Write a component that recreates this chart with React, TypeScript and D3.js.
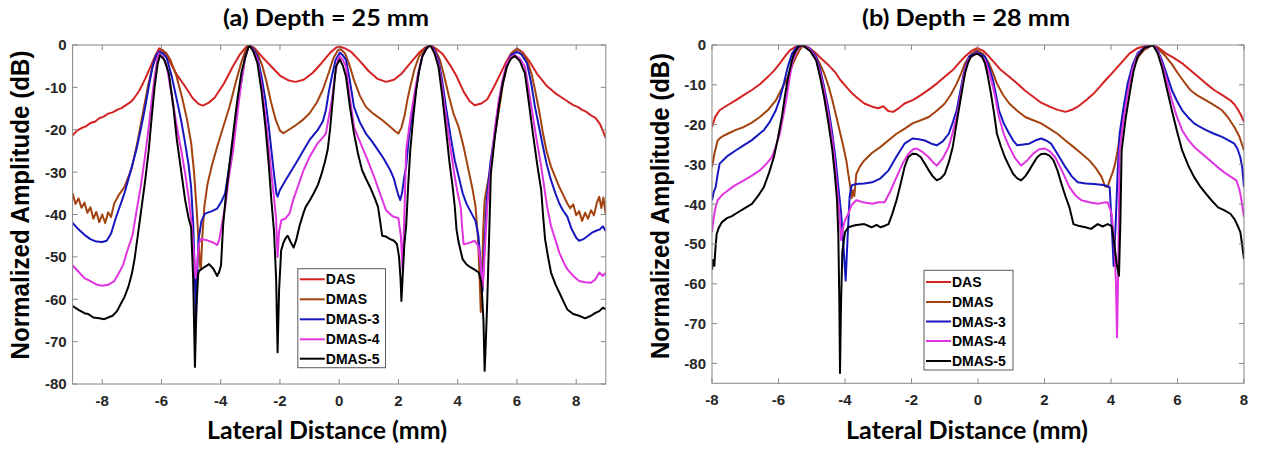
import React from "react";
import * as d3 from "d3";

type Pt = [number, number];

const seriesNames = ["DAS", "DMAS", "DMAS-3", "DMAS-4", "DMAS-5"];
const panelTitles = ["(a) Depth = 25 mm", "(b) Depth = 28 mm"];
const xAxisLabel = "Lateral Distance (mm)";
const yAxisLabel = "Normalized Amplitude (dB)";

const aXTicks = [-8, -6, -4, -2, 0, 2, 4, 6, 8];
const aYTicks = [0, -10, -20, -30, -40, -50, -60, -70, -80];
const bXTicks = [-8, -6, -4, -2, 0, 2, 4, 6, 8];
const bYTicks = [0, -10, -20, -30, -40, -50, -60, -70, -80];
const aXDomain: [number, number] = [-9, 9];
const aYDomain: [number, number] = [-80, 0];
const bXDomain: [number, number] = [-8, 8];
const bYDomain: [number, number] = [-85, 0];

// ---- Panel (a): depth 25 mm ----
const aDAS: Pt[] = [[-9,-21.3],[-8.85,-20.2],[-8.7,-19.6],[-8.55,-19.2],[-8.4,-18.4],[-8.25,-18.1],[-8.1,-17.3],[-7.95,-16.9],[-7.8,-16.2],[-7.65,-15.9],[-7.5,-15.3],[-7.35,-14.9],[-7.2,-14.2],[-7.05,-13.5],[-6.95,-12.8],[-6.75,-10.8],[-6.55,-8],[-6.35,-4.8],[-6.2,-2.4],[-6.08,-0.8],[-5.95,-1.2],[-5.75,-3.5],[-5.5,-6.8],[-5.2,-9.8],[-4.95,-12.5],[-4.75,-13.9],[-4.6,-14.3],[-4.4,-13.6],[-4.2,-12.4],[-3.9,-9.2],[-3.6,-5.2],[-3.35,-2.2],[-3.15,-0.5],[-3.05,0],[-2.85,-0.8],[-2.6,-2.8],[-2.3,-5],[-2.0,-7.2],[-1.7,-8.4],[-1.47,-8.7],[-1.2,-8.2],[-0.9,-6.6],[-0.6,-4.3],[-0.3,-1.8],[-0.1,-0.6],[0.02,-0.4],[0.2,-0.8],[0.4,-1.6],[0.7,-3.8],[1.0,-6.2],[1.3,-8.0],[1.58,-8.7],[1.85,-8.2],[2.1,-6.8],[2.4,-4.3],[2.7,-1.8],[2.9,-0.6],[3.08,0],[3.3,-1],[3.5,-2.2],[3.75,-4.8],[3.95,-7.2],[4.2,-11],[4.4,-13.2],[4.57,-14.2],[4.8,-13.8],[5.0,-12.8],[5.2,-10.2],[5.4,-7.4],[5.6,-4.5],[5.8,-2],[6.0,-0.8],[6.2,-1.8],[6.4,-3.6],[6.7,-7],[7.0,-9.6],[7.3,-11.4],[7.6,-12.8],[7.9,-14.2],[8.05,-14.6],[8.2,-15.3],[8.35,-15.8],[8.5,-16.6],[8.65,-17.2],[8.8,-18.6],[8.9,-20.2],[9,-22]];
const aDMAS: Pt[] = [[-9,-35],[-8.9,-37.5],[-8.8,-36.2],[-8.7,-38.4],[-8.6,-37.2],[-8.5,-39.6],[-8.4,-38.3],[-8.3,-41],[-8.2,-39.4],[-8.1,-41.8],[-8.0,-40],[-7.9,-42],[-7.8,-39.5],[-7.7,-40.6],[-7.6,-37.5],[-7.45,-35.5],[-7.25,-33.5],[-7.0,-29],[-6.8,-22.5],[-6.6,-15],[-6.45,-9.5],[-6.3,-5],[-6.15,-2.2],[-6.02,-1.2],[-5.85,-1.8],[-5.7,-3.5],[-5.5,-7.2],[-5.3,-12.5],[-5.14,-17.5],[-5.0,-23],[-4.9,-30],[-4.82,-38],[-4.75,-46],[-4.7,-52],[-4.67,-53],[-4.62,-45],[-4.55,-38],[-4.45,-33],[-4.3,-28.5],[-4.12,-24],[-3.9,-19],[-3.7,-14.5],[-3.5,-9],[-3.3,-4],[-3.15,-1],[-3.04,0],[-2.9,-0.6],[-2.76,-2],[-2.6,-4.8],[-2.45,-8.8],[-2.3,-13.5],[-2.15,-17.5],[-2.0,-20.2],[-1.88,-20.8],[-1.7,-20],[-1.5,-19.1],[-1.25,-17.8],[-1.0,-16.1],[-0.75,-13.5],[-0.55,-10.5],[-0.35,-6.5],[-0.2,-3.2],[-0.05,-1.3],[0.05,-1.0],[0.2,-2],[0.35,-4.8],[0.5,-8.3],[0.7,-12],[0.9,-14.6],[1.15,-16.2],[1.45,-17.7],[1.7,-19.2],[1.9,-20.4],[2.0,-20.9],[2.1,-19.5],[2.2,-16.9],[2.3,-13],[2.4,-9.8],[2.55,-5.5],[2.7,-2.6],[2.9,-0.8],[3.08,0],[3.25,-1.2],[3.4,-3.5],[3.55,-7.5],[3.7,-12],[3.85,-16],[4.03,-19.3],[4.2,-24],[4.35,-29],[4.5,-34],[4.6,-38],[4.68,-45],[4.74,-55],[4.78,-63],[4.82,-55],[4.86,-44],[4.91,-36.6],[5.0,-33],[5.12,-28.7],[5.25,-21.5],[5.39,-15.4],[5.52,-9.5],[5.66,-5.1],[5.82,-2],[6.0,-1.0],[6.15,-1.6],[6.34,-3.5],[6.5,-7],[6.61,-10.6],[6.75,-15.5],[6.88,-20.9],[7.0,-25],[7.15,-28.7],[7.3,-31.3],[7.43,-33.5],[7.55,-35.2],[7.7,-37.4],[7.8,-38.5],[7.9,-37.6],[8.0,-40.2],[8.1,-39.2],[8.2,-41.5],[8.3,-39.6],[8.4,-41],[8.5,-39],[8.6,-40.2],[8.7,-37.2],[8.78,-35.8],[8.85,-38.5],[8.92,-36],[9,-40]];
const aDMAS3: Pt[] = [[-9,-42],[-8.8,-43.5],[-8.6,-44.8],[-8.4,-45.8],[-8.2,-46.4],[-8.0,-46.5],[-7.85,-46.2],[-7.7,-44.5],[-7.55,-41],[-7.4,-38],[-7.25,-35],[-7.05,-30],[-6.85,-24.8],[-6.7,-20],[-6.57,-15.4],[-6.42,-9.5],[-6.3,-5.1],[-6.18,-2.4],[-6.09,-1.6],[-5.95,-2],[-5.82,-3.1],[-5.65,-7.5],[-5.48,-13],[-5.33,-18],[-5.2,-23.2],[-5.08,-28.5],[-5.0,-33.5],[-4.93,-42],[-4.87,-55],[-4.84,-66],[-4.8,-55],[-4.75,-46],[-4.65,-41.5],[-4.53,-39.8],[-4.3,-39.2],[-4.12,-38.6],[-3.98,-37],[-3.85,-35],[-3.72,-29],[-3.58,-22.4],[-3.45,-15],[-3.31,-9],[-3.18,-3],[-3.04,0],[-2.9,-0.9],[-2.76,-2.8],[-2.62,-7.5],[-2.49,-13],[-2.38,-19],[-2.29,-24.8],[-2.2,-30.5],[-2.12,-35],[-2.08,-35.8],[-2.0,-34.2],[-1.81,-31.9],[-1.6,-29.5],[-1.4,-27.2],[-1.2,-24.8],[-1.0,-22.4],[-0.73,-20.1],[-0.55,-18],[-0.45,-15.4],[-0.35,-11],[-0.25,-7.5],[-0.12,-3.5],[0.02,-1.8],[0.12,-2.4],[0.23,-3.5],[0.35,-8],[0.5,-14.6],[0.7,-18.3],[0.9,-20.9],[1.1,-22.7],[1.31,-24.8],[1.5,-26.8],[1.72,-29.5],[1.85,-31.6],[1.92,-33.5],[2.0,-35.5],[2.06,-36.6],[2.12,-35],[2.2,-31],[2.26,-28.7],[2.35,-22],[2.45,-17],[2.54,-13],[2.67,-7],[2.8,-2.8],[2.95,-0.6],[3.08,0],[3.2,-1],[3.35,-3.5],[3.48,-8.5],[3.62,-15.4],[3.76,-21.5],[3.9,-27.2],[4.05,-31.5],[4.17,-35],[4.3,-37.5],[4.45,-39.5],[4.6,-41.5],[4.7,-45],[4.78,-52],[4.84,-58],[4.9,-48],[4.98,-36.6],[5.1,-28],[5.25,-20.9],[5.38,-14],[5.52,-9],[5.65,-4.8],[5.8,-2.4],[6.0,-1.6],[6.15,-2.2],[6.34,-4.3],[6.48,-9],[6.61,-14.6],[6.75,-19.5],[6.88,-24],[7.0,-28],[7.15,-31.9],[7.3,-35],[7.43,-37.4],[7.55,-39],[7.7,-40.5],[7.85,-43.5],[8.0,-45.5],[8.1,-46.2],[8.25,-45.8],[8.4,-45],[8.55,-44.2],[8.65,-43.9],[8.8,-43.5],[8.9,-42.8],[9,-43.9]];
const aDMAS4: Pt[] = [[-9,-52],[-8.8,-53.5],[-8.6,-55],[-8.4,-55.7],[-8.2,-56.5],[-8.0,-56.8],[-7.8,-56.6],[-7.6,-55.8],[-7.45,-54],[-7.3,-52],[-7.15,-48.5],[-6.98,-45],[-6.85,-39.5],[-6.7,-33.5],[-6.55,-26],[-6.43,-19.3],[-6.32,-12.5],[-6.23,-7.5],[-6.15,-3.8],[-6.09,-2],[-5.95,-2.8],[-5.82,-5.1],[-5.65,-12],[-5.48,-19.3],[-5.33,-25],[-5.2,-30.3],[-5.07,-36.6],[-4.97,-43],[-4.9,-50],[-4.85,-55],[-4.8,-52],[-4.74,-47],[-4.67,-45.8],[-4.5,-46],[-4.26,-46.6],[-4.12,-47.2],[-4.05,-46],[-3.95,-42],[-3.85,-38.2],[-3.72,-31],[-3.58,-24.8],[-3.45,-17],[-3.31,-9],[-3.17,-2.8],[-3.04,0],[-2.9,-1.2],[-2.76,-3.5],[-2.62,-9.5],[-2.49,-16.9],[-2.38,-24],[-2.29,-30.3],[-2.2,-36],[-2.13,-41],[-2.08,-50],[-2.03,-44],[-1.95,-41.3],[-1.82,-41],[-1.68,-39.8],[-1.55,-36.5],[-1.4,-33.5],[-1.2,-29.5],[-1.0,-26.4],[-0.73,-23.2],[-0.55,-21.8],[-0.45,-20.9],[-0.35,-17],[-0.25,-13],[-0.15,-7.5],[-0.05,-3.5],[0.02,-2.6],[0.12,-3.5],[0.23,-5.1],[0.35,-12],[0.5,-19.3],[0.65,-22],[0.77,-24],[0.95,-27],[1.18,-31.1],[1.4,-35.5],[1.58,-39],[1.8,-40.4],[2.0,-40.9],[2.08,-45],[2.14,-53],[2.2,-40],[2.26,-24.8],[2.4,-17.5],[2.54,-11.4],[2.67,-6.5],[2.8,-2.8],[2.95,-0.8],[3.08,0],[3.22,-1.6],[3.35,-4.3],[3.48,-10],[3.62,-17.7],[3.76,-24.5],[3.9,-31.1],[4.0,-35],[4.1,-38.2],[4.15,-43],[4.2,-47],[4.35,-46.8],[4.57,-46.2],[4.7,-47.5],[4.78,-52],[4.85,-57],[4.92,-48],[5.0,-38],[5.12,-28.7],[5.25,-20],[5.39,-13],[5.52,-8],[5.66,-4.3],[5.8,-2.8],[5.93,-2.4],[6.1,-3.2],[6.27,-5.1],[6.4,-10.5],[6.54,-16.9],[6.68,-23],[6.82,-28.7],[6.92,-33.5],[7.02,-38.2],[7.15,-42.7],[7.3,-46],[7.43,-49],[7.57,-51.2],[7.7,-52.9],[7.9,-54.5],[8.1,-55.7],[8.3,-56],[8.5,-56.1],[8.65,-55.3],[8.78,-53.7],[8.9,-54.5],[9,-53.7]];
const aDMAS5: Pt[] = [[-9,-61.6],[-8.8,-62.5],[-8.6,-63.3],[-8.47,-63.5],[-8.3,-64.3],[-8.1,-64.5],[-7.93,-64.7],[-7.8,-64.3],[-7.65,-63.9],[-7.5,-62.8],[-7.38,-61.2],[-7.25,-59.5],[-7.11,-56.9],[-7.0,-54],[-6.91,-50.6],[-6.8,-45],[-6.7,-39.8],[-6.55,-32],[-6.43,-24.8],[-6.33,-17],[-6.23,-9.8],[-6.13,-4.5],[-6.05,-2.4],[-5.9,-3.5],[-5.75,-6.7],[-5.6,-14.5],[-5.48,-22.4],[-5.34,-29.5],[-5.2,-36.6],[-5.08,-41],[-5.0,-43],[-4.93,-55],[-4.87,-76],[-4.82,-62],[-4.76,-54],[-4.73,-53.3],[-4.55,-52.4],[-4.39,-51.7],[-4.25,-52.8],[-4.12,-54.5],[-4.05,-53.5],[-3.99,-52],[-3.92,-42.7],[-3.82,-35],[-3.71,-28.7],[-3.58,-21],[-3.44,-13],[-3.3,-6.5],[-3.17,-2.8],[-3.04,0],[-2.9,-1.5],[-2.76,-4.3],[-2.62,-11],[-2.49,-19.3],[-2.38,-28],[-2.29,-36.6],[-2.2,-44],[-2.13,-55],[-2.08,-72.5],[-2.03,-58],[-1.96,-48.5],[-1.88,-46.6],[-1.8,-45.5],[-1.74,-45],[-1.64,-46.5],[-1.54,-47.8],[-1.45,-46],[-1.34,-42.7],[-1.2,-39.5],[-1.13,-38.2],[-0.98,-36.5],[-0.86,-35],[-0.72,-33],[-0.59,-30.3],[-0.48,-27.5],[-0.39,-24.8],[-0.31,-20],[-0.25,-15.4],[-0.17,-9.5],[-0.11,-5.1],[0.02,-3.4],[0.12,-4.8],[0.23,-7.5],[0.36,-14.5],[0.5,-20.9],[0.63,-25.5],[0.77,-29.5],[0.9,-31.5],[1.04,-33.5],[1.18,-35.8],[1.31,-38.2],[1.38,-41.5],[1.45,-45],[1.58,-45.2],[1.72,-45.8],[1.85,-46.2],[1.95,-47],[2.02,-50],[2.07,-55],[2.1,-60.4],[2.14,-55],[2.2,-47],[2.26,-42.7],[2.33,-33],[2.4,-24.8],[2.5,-17],[2.6,-10.6],[2.7,-6],[2.8,-2.8],[2.95,-0.8],[3.08,0],[3.22,-2],[3.35,-5.1],[3.48,-12],[3.62,-20.9],[3.72,-27.5],[3.83,-33.5],[3.9,-38],[3.96,-43.5],[4.03,-46.5],[4.1,-48.6],[4.17,-50.6],[4.3,-51.8],[4.44,-52.5],[4.57,-53],[4.71,-53.7],[4.8,-56],[4.87,-65],[4.91,-76.9],[4.95,-70],[5.0,-60],[5.05,-48],[5.12,-30.3],[5.25,-22],[5.39,-14.6],[5.52,-9],[5.66,-5.1],[5.8,-3.2],[5.93,-2.6],[6.1,-3.8],[6.27,-6.7],[6.4,-13.5],[6.54,-20.9],[6.68,-28],[6.82,-34.3],[6.88,-40],[6.95,-45.8],[7.05,-50],[7.15,-53.7],[7.3,-56.5],[7.43,-58.4],[7.57,-60.5],[7.7,-62.4],[7.9,-63.5],[8.1,-63.9],[8.3,-64.5],[8.5,-63.9],[8.65,-63.2],[8.78,-62.8],[8.9,-62],[9,-62.4]];

// ---- Panel (b): depth 28 mm ----
const bDAS: Pt[] = [[-8,-20.6],[-7.9,-18],[-7.77,-16.4],[-7.55,-15.2],[-7.29,-13.9],[-7.05,-12.6],[-6.8,-11.3],[-6.55,-9.8],[-6.32,-8],[-6.14,-6.5],[-5.96,-4.6],[-5.8,-2.8],[-5.65,-1.3],[-5.45,-0.3],[-5.29,0],[-5.1,-0.6],[-4.87,-2.1],[-4.7,-3.5],[-4.5,-5],[-4.3,-6.8],[-4.14,-8.8],[-3.96,-10.5],[-3.78,-12.2],[-3.6,-13.5],[-3.42,-14.7],[-3.18,-15.5],[-3.0,-15.9],[-2.85,-15.4],[-2.7,-16.6],[-2.55,-16.8],[-2.4,-16],[-2.21,-14.7],[-1.95,-13.8],[-1.72,-12.6],[-1.48,-11.2],[-1.24,-9.7],[-1.0,-8],[-0.76,-6.3],[-0.55,-4.3],[-0.39,-2.9],[-0.2,-1.5],[-0.03,-0.8],[0.15,-1.4],[0.33,-2.9],[0.5,-4.5],[0.69,-6.3],[0.94,-8],[1.18,-9.7],[1.42,-11.5],[1.66,-13],[1.9,-14.5],[2.15,-15.5],[2.4,-16.3],[2.63,-16.8],[2.85,-16.2],[3.0,-15.5],[3.25,-13.9],[3.48,-12.2],[3.66,-10.5],[3.84,-8.8],[4.02,-7.2],[4.2,-5.5],[4.38,-3.8],[4.56,-2.1],[4.8,-0.8],[5.05,-0.2],[5.26,0],[5.45,-0.8],[5.65,-2.1],[5.9,-3.3],[6.14,-4.6],[6.38,-6.3],[6.62,-8],[6.86,-9.7],[7.1,-11.3],[7.35,-12.6],[7.59,-13.9],[7.72,-15],[7.83,-16.4],[7.92,-17.8],[8,-19.3]];
const bDMAS: Pt[] = [[-8,-30.7],[-7.92,-27],[-7.83,-24],[-7.7,-23],[-7.53,-22.3],[-7.3,-21.4],[-7.04,-20.6],[-6.8,-19.5],[-6.56,-18.1],[-6.3,-16.2],[-6.08,-13.9],[-5.9,-11],[-5.71,-8],[-5.58,-5],[-5.47,-2.9],[-5.35,-1],[-5.23,0],[-5.05,-1],[-4.87,-2.9],[-4.75,-4.8],[-4.63,-7.1],[-4.5,-10.2],[-4.38,-13.9],[-4.26,-18],[-4.14,-22.3],[-4.05,-25.5],[-3.96,-29],[-3.9,-32.5],[-3.84,-35.7],[-3.8,-38.5],[-3.76,-36.5],[-3.72,-38],[-3.66,-32.4],[-3.55,-30.5],[-3.42,-29],[-3.2,-27.2],[-2.93,-25.6],[-2.7,-24],[-2.45,-22.3],[-2.2,-21],[-1.97,-19.7],[-1.72,-18.9],[-1.48,-18.1],[-1.24,-16.5],[-1.0,-14.7],[-0.82,-12.5],[-0.64,-9.7],[-0.5,-7],[-0.39,-4.6],[-0.2,-2.2],[-0.03,-1.3],[0.15,-2.2],[0.33,-4.6],[0.45,-7],[0.57,-9.7],[0.75,-12.5],[0.94,-14.7],[1.18,-16.5],[1.42,-18.1],[1.66,-18.9],[1.9,-19.7],[2.15,-21],[2.39,-22.3],[2.63,-24],[2.87,-25.6],[3.1,-27.2],[3.35,-29],[3.55,-31],[3.72,-33.2],[3.82,-35.5],[3.9,-35.7],[3.96,-34],[4.05,-32],[4.12,-30],[4.2,-26.5],[4.32,-20],[4.44,-13.9],[4.56,-9],[4.68,-5.5],[4.84,-2.8],[4.99,-1.3],[5.26,0],[5.45,-1.2],[5.65,-2.9],[5.83,-4.8],[6.01,-7.1],[6.2,-9.3],[6.38,-11.3],[6.62,-12.8],[6.86,-13.9],[7.1,-15.1],[7.34,-16.4],[7.52,-18.2],[7.71,-20.6],[7.86,-23],[8,-26.5]];
const bDMAS3: Pt[] = [[-8,-39],[-7.95,-37],[-7.89,-35.7],[-7.83,-32.5],[-7.77,-29.8],[-7.55,-28],[-7.29,-26.5],[-7.05,-25.2],[-6.8,-23.9],[-6.6,-22.5],[-6.44,-21.4],[-6.26,-19.3],[-6.08,-16.4],[-5.96,-13.5],[-5.84,-9.7],[-5.72,-5.5],[-5.59,-2.1],[-5.45,-0.5],[-5.29,0],[-5.05,-1],[-4.87,-2.9],[-4.75,-6],[-4.63,-10.5],[-4.5,-16],[-4.38,-22.3],[-4.28,-29],[-4.2,-35.7],[-4.12,-42],[-4.05,-50],[-3.98,-59.2],[-3.92,-48],[-3.86,-38],[-3.8,-35.3],[-3.66,-34.9],[-3.42,-34.8],[-3.18,-34.5],[-2.93,-33.5],[-2.69,-31.5],[-2.45,-28],[-2.21,-24.8],[-1.97,-23.5],[-1.78,-23.7],[-1.6,-24],[-1.4,-24.8],[-1.24,-25.2],[-1.06,-24.2],[-0.88,-22.3],[-0.76,-19.5],[-0.64,-16.4],[-0.54,-12],[-0.45,-8],[-0.36,-5],[-0.27,-2.9],[-0.03,-1.7],[0.21,-2.9],[0.33,-5.5],[0.45,-8.8],[0.54,-12.5],[0.63,-16.4],[0.78,-19.8],[0.94,-22.3],[1.06,-24],[1.18,-25.2],[1.36,-25],[1.54,-24.8],[1.72,-24],[1.9,-23.5],[2.05,-24],[2.2,-24.8],[2.4,-27.5],[2.63,-30.7],[2.82,-33],[3.0,-34.5],[3.24,-34.8],[3.48,-34.9],[3.7,-35.1],[3.84,-35.3],[3.96,-35.7],[4.02,-45],[4.08,-55.5],[4.14,-45],[4.2,-32],[4.26,-22.3],[4.38,-15.5],[4.5,-9.7],[4.65,-5],[4.8,-2.1],[5.0,-0.6],[5.26,0],[5.4,-1.2],[5.53,-3.8],[5.68,-7.5],[5.83,-11.3],[5.98,-14],[6.14,-16.4],[6.32,-18.2],[6.5,-19.7],[6.68,-20.6],[6.86,-21.4],[7.1,-22.3],[7.34,-23.1],[7.52,-23.9],[7.71,-24.8],[7.8,-26],[7.89,-28.2],[7.95,-31],[8,-35.7]];
const bDMAS4: Pt[] = [[-8,-47],[-7.96,-44],[-7.9,-41],[-7.83,-39],[-7.7,-37.7],[-7.53,-36.6],[-7.3,-35.2],[-7.04,-34],[-6.8,-32.8],[-6.56,-31.5],[-6.38,-30],[-6.2,-28.2],[-6.08,-25.5],[-5.96,-22.3],[-5.86,-18],[-5.77,-13.9],[-5.68,-9],[-5.59,-4.6],[-5.45,-1.2],[-5.29,0],[-5.05,-1.2],[-4.87,-3.4],[-4.75,-7],[-4.63,-11.3],[-4.5,-17.5],[-4.38,-23.9],[-4.3,-30],[-4.24,-35.7],[-4.17,-42],[-4.12,-49],[-4.06,-46],[-4.0,-44],[-3.9,-42.4],[-3.8,-40.2],[-3.66,-39],[-3.42,-39.6],[-3.18,-39.9],[-3.0,-39.5],[-2.81,-39.5],[-2.65,-37],[-2.45,-33.2],[-2.25,-29.5],[-2.09,-27.3],[-1.95,-26.2],[-1.84,-26],[-1.65,-27],[-1.48,-28.2],[-1.35,-29.5],[-1.24,-30.3],[-1.06,-28.5],[-0.88,-25.6],[-0.76,-22],[-0.64,-18.1],[-0.54,-13.5],[-0.45,-8.8],[-0.36,-5.5],[-0.27,-3.4],[-0.03,-1.9],[0.21,-3.8],[0.33,-6.8],[0.45,-10.5],[0.54,-14],[0.63,-18.1],[0.78,-22.5],[0.94,-25.6],[1.12,-28.5],[1.3,-30.3],[1.48,-29],[1.66,-27.3],[1.84,-26.2],[2.02,-26],[2.17,-26.8],[2.32,-28.2],[2.52,-31.5],[2.75,-35.7],[2.93,-37.8],[3.11,-39],[3.35,-39.5],[3.6,-39.9],[3.78,-39.6],[3.9,-39.5],[4.02,-42.4],[4.1,-50],[4.15,-60],[4.18,-73.5],[4.22,-55],[4.26,-26.5],[4.38,-18.5],[4.5,-12.2],[4.65,-6],[4.8,-2.5],[5.0,-0.8],[5.26,0],[5.4,-1.5],[5.53,-4.6],[5.68,-9],[5.83,-13.9],[5.98,-18],[6.14,-21.4],[6.32,-23.8],[6.5,-25.6],[6.74,-27.3],[6.98,-29],[7.22,-30.8],[7.47,-32.4],[7.62,-33.2],[7.77,-34],[7.85,-36],[7.89,-37.4],[7.95,-40.5],[8,-43.3]];
const bDMAS5: Pt[] = [[-8,-56.5],[-7.97,-54],[-7.93,-55.5],[-7.9,-51.5],[-7.86,-47.5],[-7.8,-46],[-7.7,-44.5],[-7.55,-43.5],[-7.4,-43],[-7.29,-42.4],[-7.05,-41.2],[-6.8,-39.9],[-6.62,-38],[-6.44,-35.7],[-6.28,-32],[-6.14,-28.2],[-6.02,-23.5],[-5.9,-18.1],[-5.8,-12.5],[-5.71,-8],[-5.6,-4],[-5.53,-2.1],[-5.4,-0.5],[-5.29,0],[-5.05,-1.5],[-4.87,-3.8],[-4.75,-8],[-4.63,-13],[-4.5,-19.5],[-4.38,-26.5],[-4.3,-33],[-4.24,-39],[-4.2,-48],[-4.17,-65],[-4.15,-82.4],[-4.12,-65],[-4.08,-52],[-4.0,-47],[-3.9,-45.8],[-3.7,-45.3],[-3.42,-45],[-3.2,-45.8],[-3.05,-45.2],[-2.93,-45.8],[-2.8,-45.4],[-2.69,-45],[-2.58,-42.5],[-2.45,-39],[-2.33,-35],[-2.21,-30.7],[-2.1,-28.2],[-1.97,-27.3],[-1.85,-27.4],[-1.72,-28.2],[-1.6,-29.8],[-1.48,-31.5],[-1.36,-33],[-1.24,-34],[-1.12,-33.5],[-1.0,-32.4],[-0.88,-29.5],[-0.76,-25.6],[-0.67,-21],[-0.58,-16.4],[-0.48,-11.5],[-0.39,-7.1],[-0.3,-4.5],[-0.21,-2.9],[-0.03,-2.1],[0.12,-2.9],[0.21,-4.6],[0.3,-8],[0.39,-12.2],[0.48,-17],[0.57,-22.3],[0.69,-25.5],[0.81,-28.2],[0.94,-30.5],[1.06,-32.4],[1.18,-33.5],[1.3,-34],[1.42,-33],[1.54,-31.5],[1.66,-29.8],[1.78,-28.2],[1.9,-27.4],[2.02,-27.3],[2.15,-27.8],[2.27,-29],[2.39,-31.5],[2.51,-34.9],[2.63,-38],[2.75,-40.8],[2.87,-45],[3.05,-45.5],[3.23,-45.8],[3.4,-46.2],[3.6,-45],[3.75,-45.6],[3.9,-45],[4.02,-45.5],[4.1,-50],[4.17,-55],[4.24,-58],[4.28,-45],[4.32,-26.5],[4.44,-18.5],[4.56,-12.2],[4.68,-6.5],[4.8,-2.9],[5.0,-0.8],[5.26,0],[5.4,-2],[5.53,-5.5],[5.68,-11],[5.83,-16.4],[5.98,-21.5],[6.14,-26.5],[6.32,-30.2],[6.5,-33.2],[6.68,-35.5],[6.86,-37.4],[7.04,-39.2],[7.22,-40.8],[7.4,-41.5],[7.59,-42.4],[7.72,-43.8],[7.83,-45.8],[7.89,-47],[7.95,-50.5],[8,-53.8]];

const seriesColors = ["#d42222", "#a4420f", "#1717bf", "#e034e0", "#000000"];

type PanelProps = {
  id: string;
  title: string;
  box: { x0: number; x1: number; y0: number; y1: number };
  xDomain: [number, number];
  yDomain: [number, number];
  xTicks: number[];
  yTicks: number[];
  series: Pt[][];
  titlePos: { cx: number; y: number; w: number };
  xLabelPos: { cx: number; y: number; w: number };
  yLabelPos: { x: number; cy: number; w: number };
  legendBox: { x: number; y: number; w: number; h: number; rowY: number[] };
};

const TICK_FONT = "'Liberation Sans', Arial, sans-serif";
const TITLE_FONT = "Lato, 'Open Sans', sans-serif";

function Panel(p: PanelProps) {
  const { x0, x1, y0, y1 } = p.box;
  const xs = d3.scaleLinear().domain(p.xDomain).range([x0, x1]);
  const ys = d3.scaleLinear().domain(p.yDomain).range([y1, y0]);
  const line = d3
    .line<Pt>()
    .x((d) => xs(d[0]))
    .y((d) => ys(d[1]));
  const tl = 5;
  const axisColor = "#868686";
  const lg = p.legendBox;
  return (
    <g>
      <defs>
        <clipPath id={`clip-${p.id}`}>
          <rect x={x0} y={y0} width={x1 - x0} height={y1 - y0} />
        </clipPath>
      </defs>
      <rect x={x0} y={y0} width={x1 - x0} height={y1 - y0} fill="#fff" />
      <g clipPath={`url(#clip-${p.id})`}>
        {p.series.map((s, i) => (
          <path
            key={i}
            d={line(s) || ""}
            fill="none"
            stroke={seriesColors[i]}
            strokeWidth={2}
            strokeLinejoin="round"
          />
        ))}
      </g>
      {p.xTicks.map((t) => (
        <g key={`xt${t}`}>
          <line x1={xs(t)} x2={xs(t)} y1={y1} y2={y1 - tl} stroke={axisColor} strokeWidth={1} />
          <line x1={xs(t)} x2={xs(t)} y1={y0} y2={y0 + tl} stroke={axisColor} strokeWidth={1} />
          <text
            x={xs(t)}
            y={y1 + 21.5}
            textAnchor="middle"
            fontFamily={TICK_FONT}
            fontWeight="bold"
            fontSize={15}
            fill="#262626"
          >
            {t}
          </text>
        </g>
      ))}
      {p.yTicks.map((t) => (
        <g key={`yt${t}`}>
          <line x1={x0} x2={x0 + tl} y1={ys(t)} y2={ys(t)} stroke={axisColor} strokeWidth={1} />
          <line x1={x1} x2={x1 - tl} y1={ys(t)} y2={ys(t)} stroke={axisColor} strokeWidth={1} />
          <text
            x={x0 - 6}
            y={ys(t)}
            dy="0.36em"
            textAnchor="end"
            fontFamily={TICK_FONT}
            fontWeight="bold"
            fontSize={15}
            fill="#262626"
          >
            {t}
          </text>
        </g>
      ))}
      <rect
        x={x0}
        y={y0}
        width={x1 - x0}
        height={y1 - y0}
        fill="none"
        stroke={axisColor}
        strokeWidth={1}
      />
      <rect x={lg.x} y={lg.y} width={lg.w} height={lg.h} fill="#fff" stroke="#5a5a5a" strokeWidth={1} />
      {seriesNames.map((n, i) => (
        <g key={n}>
          <line
            x1={lg.x + 2}
            x2={lg.x + 27}
            y1={lg.rowY[i]}
            y2={lg.rowY[i]}
            stroke={seriesColors[i]}
            strokeWidth={2}
          />
          <text
            x={lg.x + 28}
            y={lg.rowY[i]}
            dy="0.36em"
            fontFamily={TICK_FONT}
            fontWeight="bold"
            fontSize={14}
            fill="#000"
          >
            {n}
          </text>
        </g>
      ))}
      <text
        x={p.titlePos.cx}
        y={p.titlePos.y}
        textAnchor="middle"
        fontFamily={TITLE_FONT}
        fontWeight="bold"
        fontSize={23}
        textLength={p.titlePos.w}
        lengthAdjust="spacingAndGlyphs"
        fill="#000"
      >
        {p.title}
      </text>
      <text
        x={p.xLabelPos.cx}
        y={p.xLabelPos.y}
        textAnchor="middle"
        fontFamily={TITLE_FONT}
        fontWeight="bold"
        fontSize={24}
        textLength={p.xLabelPos.w}
        lengthAdjust="spacingAndGlyphs"
        fill="#000"
      >
        {xAxisLabel}
      </text>
      <text
        transform={`translate(${p.yLabelPos.x},${p.yLabelPos.cy}) rotate(-90)`}
        textAnchor="middle"
        fontFamily={TICK_FONT}
        fontWeight="bold"
        fontSize={25}
        textLength={p.yLabelPos.w}
        lengthAdjust="spacingAndGlyphs"
        fill="#000"
      >
        {yAxisLabel}
      </text>
    </g>
  );
}

export default function App() {
  return (
    <div style={{ width: 1262, height: 452, overflow: "hidden" }}>
      <style>{`html,body{margin:0;padding:0;background:#fff;overflow:hidden}`}</style>
      <svg width={1262} height={452} viewBox="0 0 1262 452" style={{ display: "block" }}>
        <rect x={0} y={0} width={1262} height={452} fill="#fff" />
        <Panel
          id="a"
          title={panelTitles[0]}
          box={{ x0: 72.6, x1: 605.8, y0: 45, y1: 384 }}
          xDomain={aXDomain}
          yDomain={aYDomain}
          xTicks={aXTicks}
          yTicks={aYTicks}
          series={[aDAS, aDMAS, aDMAS3, aDMAS4, aDMAS5]}
          titlePos={{ cx: 326, y: 26, w: 206 }}
          xLabelPos={{ cx: 327, y: 439, w: 240 }}
          yLabelPos={{ x: 29, cy: 205, w: 309 }}
          legendBox={{ x: 297.8, y: 268.7, w: 87.7, h: 99, rowY: [279.3, 299.3, 319.3, 339.3, 358.7] }}
        />
        <Panel
          id="b"
          title={panelTitles[1]}
          box={{ x0: 712, x1: 1244, y0: 45, y1: 383.3 }}
          xDomain={bXDomain}
          yDomain={bYDomain}
          xTicks={bXTicks}
          yTicks={bYTicks}
          series={[bDAS, bDMAS, bDMAS3, bDMAS4, bDMAS5]}
          titlePos={{ cx: 966, y: 26, w: 208 }}
          xLabelPos={{ cx: 967, y: 439, w: 242 }}
          yLabelPos={{ x: 669, cy: 206, w: 306 }}
          legendBox={{ x: 924, y: 270.3, w: 89, h: 99.7, rowY: [282, 302, 321.5, 341, 361] }}
        />
      </svg>
    </div>
  );
}
